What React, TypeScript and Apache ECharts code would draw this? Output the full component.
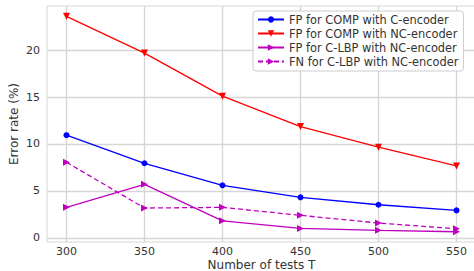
import React, { useEffect, useRef } from "react";
import * as echarts from "echarts";

const xValues = [300, 350, 400, 450, 500, 550];
const fpCompC = [10.93, 7.94, 5.59, 4.31, 3.52, 2.92];
const fpCompNC = [23.6, 19.68, 15.09, 11.85, 9.65, 7.65];
const fpClbpNC = [3.24, 5.7, 1.81, 1.0, 0.79, 0.64];
const fnClbpNC = [8.05, 3.17, 3.24, 2.39, 1.57, 0.96];
const yTicks = [0, 5, 10, 15, 20];
const xTicks = [300, 350, 400, 450, 500, 550];

const pairs = (ys: number[]) => xValues.map((x, i) => [x, ys[i]]);

export default function App() {
  const ref = useRef<HTMLDivElement>(null);
  useEffect(() => {
    if (!ref.current) return;
    const chart = echarts.init(ref.current, undefined, { renderer: "svg" });
    const font = "DejaVu Sans";
    const gridColor = "#d6d6d6";
    const textColor = "#333333";
    const mk = (name: string, data: number[], color: string, symbol: string, rotate: number, size: number, dashed: boolean) => ({
      name,
      type: "line",
      data: pairs(data),
      symbol,
      symbolSize: size,
      symbolRotate: rotate,
      showSymbol: true,
      lineStyle: { color, width: 1.3, type: dashed ? [5, 3] : "solid" },
      itemStyle: { color },
      z: 3,
    });
    chart.setOption({
      animation: false,
      backgroundColor: "#ffffff",
      grid: {
        left: 47,
        top: 6,
        right: -2,
        bottom: 29,
        outerBoundsMode: "none",
        containLabel: false,
        show: true,
        borderColor: gridColor,
        borderWidth: 1,
        backgroundColor: "transparent",
      },
      xAxis: {
        type: "value",
        min: 287.5,
        max: 562.5,
        name: "Number of tests T",
        nameLocation: "middle",
        nameGap: 23,
        nameMoveOverlap: false,
        nameTextStyle: { fontFamily: font, fontSize: 12, color: textColor, verticalAlign: "middle" },
        axisLine: { show: false },
        axisTick: { show: false, customValues: xTicks },
        axisLabel: { customValues: xTicks, fontFamily: font, fontSize: 11, color: textColor, margin: 4 },
        splitLine: { show: true, customValues: xTicks, lineStyle: { color: gridColor, width: 1.4 } },
      },
      yAxis: {
        type: "value",
        min: -0.45,
        max: 24.7,
        name: "Error rate (%)",
        nameLocation: "middle",
        nameGap: 33,
        nameMoveOverlap: false,
        nameTextStyle: { fontFamily: font, fontSize: 12, color: textColor, verticalAlign: "middle" },
        axisLine: { show: false },
        axisTick: { show: false, customValues: yTicks },
        axisLabel: { customValues: yTicks, fontFamily: font, fontSize: 11, color: textColor, margin: 7 },
        splitLine: { show: true, customValues: yTicks, lineStyle: { color: gridColor, width: 1.4 } },
      },
      legend: {
        orient: "vertical",
        left: 253,
        top: 11,
        padding: [2, 5, 3, 4],
        itemGap: 1,
        itemWidth: 26,
        itemHeight: 8,
        backgroundColor: "rgba(255,255,255,0.9)",
        borderColor: "#cccccc",
        borderWidth: 1,
        borderRadius: 3,
        textStyle: { fontFamily: font, fontSize: 11.4, color: textColor, lineHeight: 13 },
        data: [
          "FP for COMP with C-encoder",
          "FP for COMP with NC-encoder",
          "FP for C-LBP with NC-encoder",
          "FN for C-LBP with NC-encoder",
        ],
      },
      series: [
        mk("FP for COMP with C-encoder", fpCompC, "#0000ff", "circle", 0, 6, false),
        mk("FP for COMP with NC-encoder", fpCompNC, "#ff0000", "triangle", 180, 7, false),
        mk("FP for C-LBP with NC-encoder", fpClbpNC, "#bf00bf", "triangle", -90, 7, false),
        mk("FN for C-LBP with NC-encoder", fnClbpNC, "#bf00bf", "triangle", -90, 7, true),
      ],
    });
    return () => chart.dispose();
  }, []);
  return <div ref={ref} style={{ width: 474, height: 271, position: "absolute", left: 0, top: 0 }} />;
}
